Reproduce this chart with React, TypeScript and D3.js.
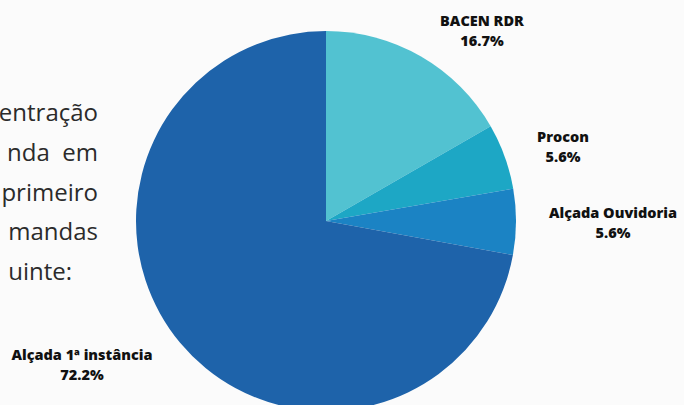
import React from "react";
import * as d3 from "d3";

const categories = ["BACEN RDR", "Procon", "Alçada Ouvidoria", "Alçada 1ª instância"];
const values = [16.7, 5.6, 5.6, 72.2];
const valueLabels = ["16.7%", "5.6%", "5.6%", "72.2%"];
const colors = ["#52C2D1", "#1DA7C5", "#1B83C4", "#1E63AA"];
const bodyLines = ["entração", "nda  em", "primeiro", "mandas", "uinte:"];

const W = 684;
const H = 405;
const cx = 326;
const cy = 221;
const R = 190;

// label anchor positions (center of the two-line block)
const labelPos: [number, number][] = [
  [482, 30],
  [563, 146],
  [613, 222],
  [82, 364],
];

export default function App() {
  const pie = d3
    .pie<number>()
    .sort(null)
    .startAngle(0)
    .endAngle(2 * Math.PI)(values);
  const arc = d3.arc<d3.PieArcDatum<number>>().innerRadius(0).outerRadius(R);
  const font = "'Open Sans', 'Noto Sans', sans-serif";
  return (
    <svg
      width={W}
      height={H}
      style={{ position: "absolute", left: 0, top: 0, background: "#FBFBFB" }}
    >
      <rect x={0} y={0} width={W} height={H} fill="#FBFBFB" />
      <g fontFamily="'Open Sans', sans-serif" fontSize={24} fill="#2b2b2b" textAnchor="end">
        {bodyLines.map((t, i) => (
          <text key={t} x={i === 4 ? 72 : 98} y={121 + i * 39.8} xmlSpace="preserve">
            {t}
          </text>
        ))}
      </g>
      <g transform={`translate(${cx},${cy})`}>
        {pie.map((d, i) => (
          <path key={categories[i]} d={arc(d) || ""} fill={colors[i]} />
        ))}
      </g>
      <g fontFamily={font} fontWeight={800} fontSize={14.5} fill="#111" textAnchor="middle">
        {categories.map((c, i) => (
          <text key={c} x={labelPos[i][0]} y={labelPos[i][1]}>
            <tspan x={labelPos[i][0]} dy="-4">{c}</tspan>
            <tspan x={labelPos[i][0]} dy="20">{valueLabels[i]}</tspan>
          </text>
        ))}
      </g>
    </svg>
  );
}
